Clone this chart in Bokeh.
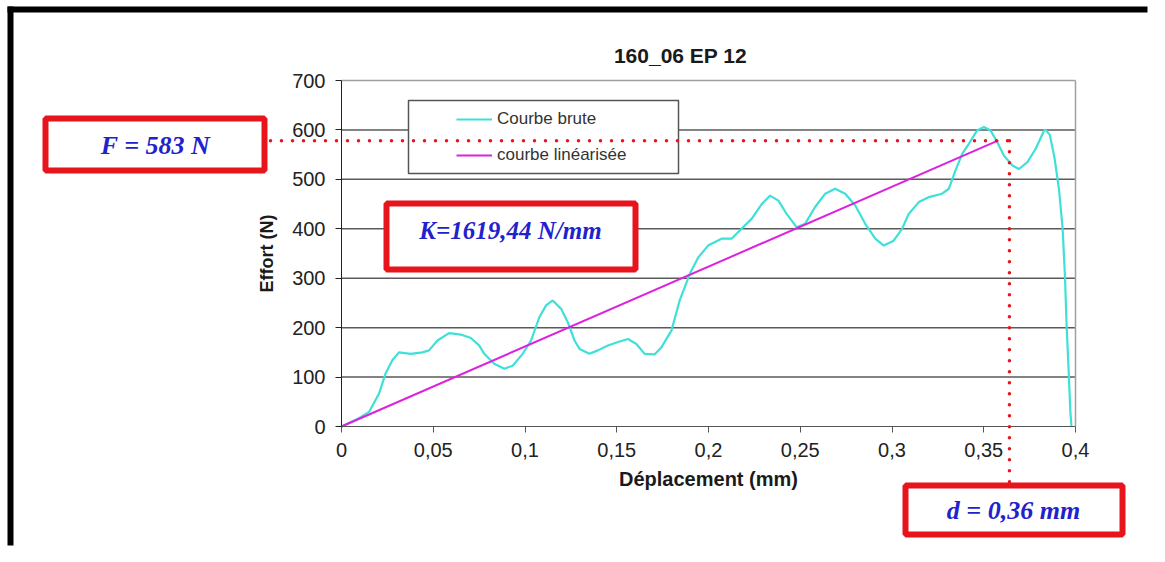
from bokeh.plotting import figure
from bokeh.models import (Range1d, FixedTicker, CustomJSTickFormatter, Legend, LegendItem,
                          BoxAnnotation, Label, Arrow, LinearAxis)
from bokeh.embed import file_html
from bokeh.resources import INLINE

# ---------------- data ----------------
brute_x = [0.0, 0.008, 0.0149, 0.0204, 0.024, 0.0277, 0.0313, 0.0377, 0.0441, 0.0477,
           0.0523, 0.0586, 0.065, 0.0705, 0.075, 0.0778, 0.0832, 0.0887, 0.0933, 0.0987,
           0.1033, 0.1078, 0.1115, 0.1151, 0.1197, 0.1233, 0.127, 0.1297, 0.1351, 0.1397,
           0.1452, 0.1507, 0.1561, 0.1607, 0.1652, 0.1707, 0.1743, 0.1798, 0.1843, 0.1898,
           0.1944, 0.1998, 0.2071, 0.2126, 0.218, 0.2235, 0.229, 0.2335, 0.2381, 0.2426,
           0.2481, 0.2526, 0.2581, 0.2636, 0.269, 0.2745, 0.28, 0.2854, 0.2909, 0.2955,
           0.3009, 0.3055, 0.3091, 0.3146, 0.32, 0.3273, 0.331, 0.3346, 0.3383, 0.3419,
           0.3464, 0.3501, 0.3537, 0.3574, 0.361, 0.3656, 0.3692, 0.3738, 0.3783, 0.3829,
           0.3838, 0.386, 0.3885, 0.391, 0.393, 0.3943, 0.3952, 0.3963, 0.3972, 0.3978]
brute_y = [0, 14, 29, 66, 107, 134, 150, 147, 150, 154,
           174, 189, 186, 179, 164, 147, 127, 117, 123, 147,
           174, 221, 245, 255, 238, 211, 174, 157, 147, 154,
           164, 171, 177, 167, 147, 146, 160, 194, 255, 309,
           342, 366, 380, 380, 400, 420, 450, 467, 457, 430,
           403, 410, 444, 471, 481, 471, 447, 410, 380, 366,
           376, 400, 430, 454, 464, 471, 481, 518, 552, 572,
           599, 606, 599, 575, 548, 528, 521, 535, 562, 599,
           600, 590, 545, 480, 400, 300, 200, 110, 30, 0]

lin_x = [0.0, 0.358]
lin_y = [0.0, 579.0]

x_ticks = [0, 0.05, 0.1, 0.15, 0.2, 0.25, 0.3, 0.35, 0.4]
x_tick_labels = ["0", "0,05", "0,1", "0,15", "0,2", "0,25", "0,3", "0,35", "0,4"]
y_ticks = [0, 100, 200, 300, 400, 500, 600, 700]

series_names = ["Courbe brute", "courbe linéarisée"]
title_text = "160_06 EP 12"
x_label = "Déplacement (mm)"
y_label = "Effort (N)"

f_level = 578      # horizontal dotted marker (N)
d_level = 0.364    # vertical dotted marker (mm)
f_text = "F = 583 N"
k_text = "K=1619,44 N/mm"
d_text = "d = 0,36 mm"

# ---------------- layout helpers (canvas pixel -> data) ----------------
FL, FR, FT, FB = 341, 1075, 80, 426      # plot area in canvas pixels
XMIN, XMAX, YMIN, YMAX = x_ticks[0], x_ticks[-1], y_ticks[0], y_ticks[-1]
W, H = 1149, 546


def dx(px):
    return XMIN + (px - FL) / (FR - FL) * (XMAX - XMIN)


def dy(py):
    return YMIN + (FB - py) / (FB - FT) * (YMAX - YMIN)


CYAN = "#3fe0d8"
MAGENTA = "#dd22dd"
RED = "#e8141c"
BLUE = "#2222cc"
SANS = "Liberation Sans"
SERIF = "Liberation Serif"

p = figure(width=W, height=H, x_range=Range1d(dx(0), dx(W)), y_range=Range1d(dy(H), dy(0)),
           output_backend="svg", toolbar_location=None,
           x_axis_location=None, y_axis_location=None, min_border=0)
p.background_fill_color = "white"
p.border_fill_color = "white"
p.outline_line_color = None
for g in p.grid:
    g.visible = False

# horizontal grid lines and plot-area border
grid_ys = y_ticks[1:-1]
p.segment(x0=XMIN, x1=XMAX, y0=grid_ys, y1=grid_ys, line_color="#5a5a5a", line_width=1.5)
p.segment(x0=[XMIN, XMAX], y0=[YMAX, YMIN], x1=[XMAX, XMAX], y1=[YMAX, YMAX],
          line_color="#a0a0a0", line_width=1.5)

# axes (fixed inside the canvas)
xaxis = LinearAxis(fixed_location=YMIN, bounds=(XMIN, XMAX), ticker=FixedTicker(ticks=x_ticks),
                   formatter=CustomJSTickFormatter(
                       args=dict(tick_vals=x_ticks, tick_texts=x_tick_labels), code="""
    for (let i = 0; i < tick_vals.length; i++) {
        if (Math.abs(tick_vals[i] - tick) < 1e-9) { return tick_texts[i]; }
    }
    return "";
"""))
yaxis = LinearAxis(fixed_location=XMIN, bounds=(YMIN, YMAX), ticker=FixedTicker(ticks=y_ticks))
p.add_layout(xaxis, "below")
p.add_layout(yaxis, "left")
for ax in (xaxis, yaxis):
    ax.major_tick_in = 0
    ax.major_tick_out = 6
    ax.minor_tick_line_color = None
    ax.major_label_text_font = SANS
    ax.major_label_text_font_size = "20px"
    ax.major_label_text_color = "#222222"
    ax.axis_label_text_font = SANS
    ax.axis_label_text_font_style = "bold"
    ax.axis_label_text_color = "#1a1a1a"
xaxis.axis_line_color = "#555555"
xaxis.major_tick_line_color = "#555555"
yaxis.axis_line_color = "#222222"
yaxis.major_tick_line_color = "#222222"
xaxis.major_label_standoff = 10
yaxis.major_label_standoff = 10
xaxis.axis_label = x_label
yaxis.axis_label = y_label
xaxis.axis_label_text_font_size = "20px"
yaxis.axis_label_text_font_size = "18px"
xaxis.axis_label_standoff = 8
yaxis.axis_label_standoff = 12

# black frame bars of the picture
p.add_layout(BoxAnnotation(left=dx(7), right=dx(13), top=dy(6), bottom=dy(H - 1),
                           fill_color="black", fill_alpha=1, line_alpha=0))
p.add_layout(BoxAnnotation(left=dx(7), right=dx(W - 2), top=dy(6), bottom=dy(12),
                           fill_color="black", fill_alpha=1, line_alpha=0))

# data lines
r_brute = p.line(brute_x, brute_y, line_color=CYAN, line_width=2.2)
r_lin = p.line(lin_x, lin_y, line_color=MAGENTA, line_width=2)

# legend
p.add_layout(BoxAnnotation(left=dx(408), right=dx(678), top=dy(100), bottom=dy(173),
                           fill_color="white", fill_alpha=1, line_color="#555555",
                           line_alpha=1, line_width=1.5))
legend = Legend(items=[LegendItem(label=series_names[0], renderers=[r_brute]),
                       LegendItem(label=series_names[1], renderers=[r_lin])],
                location=(447, H - 174), padding=9, spacing=16, glyph_width=36,
                glyph_height=20, label_height=20, label_standoff=5,
                label_text_font=SANS, label_text_font_size="17px",
                label_text_color="#333333", border_line_alpha=0,
                background_fill_alpha=0, margin=0)
p.add_layout(legend, "center")

# dotted marker lines
dot = dict(line_color=RED, line_width=3.5, line_dash="0 11", line_cap="round", end=None)
p.add_layout(Arrow(x_start=dx(270), y_start=f_level, x_end=d_level, y_end=f_level, **dot))
p.add_layout(Arrow(x_start=d_level, y_start=f_level, x_end=d_level, y_end=dy(484), **dot))

# red boxes with texts
for (l, r, t, b, cx, cy, txt, fs) in [
        (45, 264, 118, 170, 155, 144.5, f_text, "26px"),
        (386, 635, 203, 269, 510, 230, k_text, "25px"),
        (905, 1122, 485, 534, 1013, 510, d_text, "26px")]:
    p.add_layout(BoxAnnotation(left=dx(l), right=dx(r), top=dy(t), bottom=dy(b),
                               fill_color="white", fill_alpha=1, line_color=RED,
                               line_alpha=1, line_width=6))
    p.add_layout(Label(x=dx(cx), y=dy(cy), text=txt, text_font=SERIF,
                       text_font_style="bold italic", text_font_size=fs,
                       text_color=BLUE, text_align="center", text_baseline="middle"))

# title
p.add_layout(Label(x=dx(680), y=dy(54.5), text=title_text, text_font=SANS,
                   text_font_style="bold", text_font_size="21px", text_color="#1a1a1a",
                   text_align="center", text_baseline="middle"))

open("out.html", "w").write(file_html(p, INLINE))
